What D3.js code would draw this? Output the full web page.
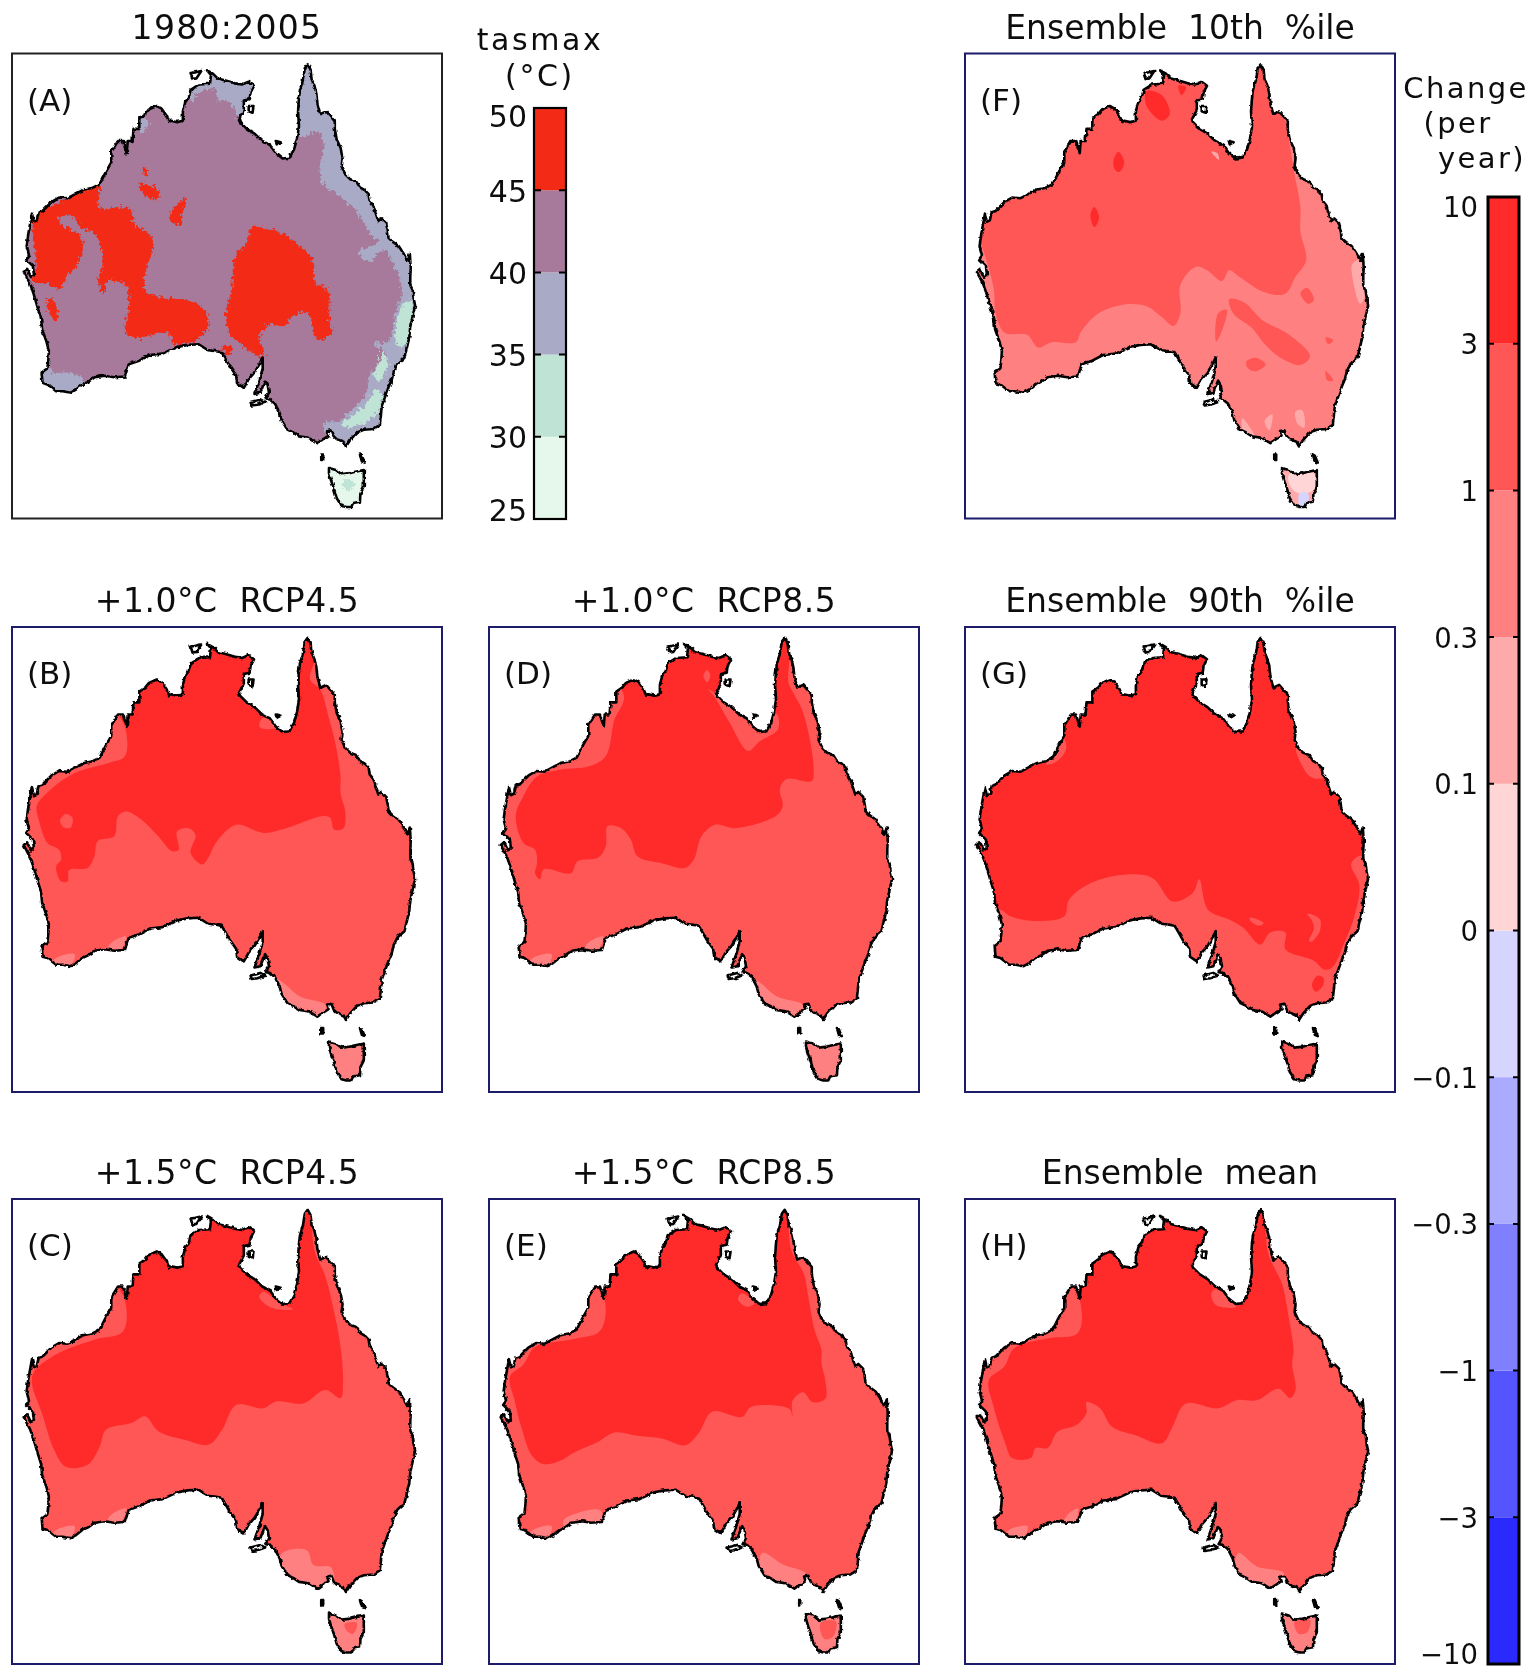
<!DOCTYPE html>
<html>
<head>
<meta charset="utf-8">
<script src="https://cdn.jsdelivr.net/npm/d3@7"></script>
<style>
  html, body { margin: 0; padding: 0; background: #fff; }
  svg { display: block; }
  text { font-family: "DejaVu Sans", sans-serif; fill: #111; white-space: pre; }
</style>
</head>
<body>
<div id="chart"></div>
<script>
// colour bars
const tasTicks = [25, 30, 35, 40, 45, 50];
const tasColors = ["#e6f8ec", "#bfe3d4", "#a9abc6", "#a7799a", "#f22c14"];
const changeLabels = ["10", "3", "1", "0.3", "0.1", "0", "\u22120.1", "\u22120.3", "\u22121", "\u22123", "\u221210"];
const changeSteps = [-3, -1, -0.3, -0.1, 0, 0.1, 0.3, 1, 3];
const changeColors = ["#2b2bff", "#5555ff", "#8080ff", "#aaaaff", "#d5d5ff", "#ffd5d5", "#ffaaaa", "#ff8080", "#ff5656", "#ff2c2c"];

// coastline, lon/lat
const mainland = [[142.5,-10.7],[142.8,-11.1],[142.9,-11.8],[143.2,-12.3],[143.4,-12.9],[143.5,-13.6],[143.8,-14.4],[144.4,-14.2],[144.9,-14.6],[145.3,-14.95],[145.3,-15.5],[145.5,-16.3],[145.9,-16.9],[146.1,-17.7],[146.0,-18.3],[146.4,-18.9],[146.9,-19.25],[147.5,-19.4],[147.9,-19.85],[148.4,-20.05],[148.8,-20.35],[148.9,-20.85],[149.3,-21.2],[149.5,-21.7],[149.8,-22.35],[150.1,-22.15],[150.6,-22.5],[150.8,-23.2],[150.85,-23.6],[151.3,-23.9],[151.9,-24.2],[152.4,-24.75],[152.8,-25.3],[153.05,-24.8],[153.15,-25.8],[153.1,-26.5],[153.1,-27.1],[153.35,-27.5],[153.45,-28.1],[153.6,-28.6],[153.35,-29.4],[153.1,-30.2],[153.0,-31.0],[152.7,-31.9],[152.5,-32.5],[151.8,-32.95],[151.4,-33.5],[151.2,-34.1],[150.85,-34.7],[150.5,-35.4],[150.15,-36.1],[150.05,-36.9],[149.95,-37.5],[149.3,-37.8],[148.3,-37.85],[147.6,-38.05],[146.9,-38.6],[146.45,-39.1],[146.2,-38.75],[145.5,-38.55],[145.2,-38.35],[144.95,-37.9],[144.5,-37.95],[144.65,-38.3],[143.9,-38.65],[143.5,-38.85],[142.6,-38.45],[141.6,-38.35],[141.0,-38.05],[140.4,-37.85],[139.8,-37.15],[139.6,-36.6],[139.1,-35.9],[138.6,-35.6],[138.15,-35.55],[138.5,-35.1],[138.35,-34.5],[138.1,-34.2],[137.6,-35.1],[137.0,-35.2],[137.5,-34.2],[137.85,-33.3],[137.85,-32.5],[137.5,-33.0],[137.0,-33.6],[136.4,-34.1],[135.9,-34.75],[135.6,-34.6],[135.2,-34.4],[135.1,-33.8],[134.4,-33.1],[134.1,-32.7],[133.6,-32.1],[132.9,-32.0],[132.2,-31.95],[131.2,-31.5],[130.1,-31.55],[129.0,-31.7],[127.5,-32.2],[126.2,-32.3],[125.0,-32.75],[124.0,-33.0],[123.6,-33.9],[122.5,-33.95],[121.5,-33.85],[120.5,-33.95],[119.8,-34.3],[119.2,-34.5],[118.5,-34.9],[118.0,-35.1],[117.2,-35.0],[116.5,-35.0],[115.6,-34.5],[115.1,-34.4],[115.0,-33.6],[115.6,-33.3],[115.7,-32.6],[115.75,-32],[115.5,-31.3],[115.05,-30.4],[114.95,-29.6],[114.6,-28.8],[114.15,-27.7],[113.8,-27],[113.15,-26.1],[113.5,-25.9],[113.9,-26.5],[114.2,-26.3],[114.1,-25.7],[113.4,-25.2],[113.7,-24.9],[113.45,-24.2],[113.6,-23.4],[113.8,-22.6],[114.0,-21.8],[114.2,-22.4],[114.5,-22.3],[114.7,-21.7],[115.1,-21.6],[116,-20.95],[116.8,-20.6],[117.7,-20.65],[118.6,-20.3],[119.4,-20.0],[120.2,-19.9],[121,-19.6],[121.6,-18.75],[122.2,-18.0],[122.2,-17.2],[122.9,-16.4],[123.4,-16.4],[123.8,-17.3],[123.9,-16.4],[124.4,-16.4],[124.5,-15.5],[125.1,-15.5],[125.1,-14.7],[125.7,-14.4],[126.1,-14.05],[126.9,-13.8],[127.4,-14.0],[127.9,-14.5],[128.2,-15.0],[128.4,-14.9],[129.0,-15.0],[129.6,-14.9],[129.6,-14.2],[129.85,-13.5],[130.2,-13.2],[130.4,-12.6],[130.85,-12.4],[131.3,-12.2],[132.4,-12.15],[132.5,-11.5],[132.1,-11.15],[132.7,-11.4],[133.2,-11.75],[134.0,-11.9],[134.9,-12.1],[135.7,-12.2],[136.4,-12.0],[136.95,-12.3],[136.6,-12.8],[136.5,-13.3],[135.9,-13.4],[135.9,-14.1],[135.4,-14.8],[135.5,-15.0],[136.2,-15.5],[137.0,-15.85],[137.8,-16.4],[138.6,-16.7],[139.2,-17.3],[139.9,-17.7],[140.6,-17.65],[141.1,-17.0],[141.4,-16.2],[141.6,-15.3],[141.5,-14.2],[141.6,-13.2],[141.7,-12.6],[142.0,-11.9],[142.2,-11.0]];
const tasmania = [[144.7,-40.7],[145.4,-40.85],[146,-41.15],[146.7,-41.1],[147.3,-41.0],[148.3,-40.85],[148.3,-41.5],[148.3,-42.1],[147.95,-42.6],[147.9,-43.2],[147.2,-43.3],[147,-43.6],[146.5,-43.6],[146,-43.5],[145.5,-42.95],[145.2,-42.2],[144.9,-41.6],[144.7,-41.1]];
const islands = [
  [[130.4,-11.35],[130.9,-11.3],[131.5,-11.2],[131.0,-11.75],[130.6,-11.8]],
  [[136.4,-13.8],[136.9,-13.8],[136.8,-14.3],[136.4,-14.2]],
  [[139.2,-16.4],[139.7,-16.5],[139.3,-16.65]],
  [[136.6,-35.8],[137.6,-35.6],[138.1,-35.8],[137.3,-36.0],[136.7,-36.05]],
  [[143.9,-39.7],[144.1,-39.7],[144.1,-40.1],[143.9,-40.1]],
  [[147.9,-39.7],[148.1,-39.8],[148.4,-40.3],[148.1,-40.2]]
];
const tasBox = [[143.5,-40.3],[149.6,-40.3],[149.6,-44.5],[143.5,-44.5]];

// panel A: tasmax
const aRim = [[141.75,-16.1],[143.45,-15.7],[144.1,-16.5],[143.9,-19.4],[145.8,-20.5],[147.5,-21.55],[148.8,-23.1],[149.85,-23.9],[147.75,-24.6],[148.8,-25.4],[150.3,-24.45],[151.35,-25.5],[152,-26.8],[152.2,-27.9],[151.55,-29.2],[150.9,-31.3],[149.4,-31.45],[150.7,-32.4],[149,-33.7],[148.55,-35.05],[147.1,-36.35],[145.8,-37.15],[144.1,-37.4],[144.5,-38.1],[147.1,-39.3],[154.8,-32.4],[155.2,-24.45],[148.8,-17.8],[145,-11.2],[142,-10.2],[140.9,-15]];
const aTopEnd = [[130.45,-13.6],[131.3,-12.8],[133,-12.55],[133.2,-13.5],[134.3,-13.35],[135.6,-14.9],[137.7,-13.9],[136.85,-11.2],[130.45,-10.7]];
const aSouthWest = [[115.7,-32.4],[116.0,-33.5],[118.5,-33.7],[120,-35],[114,-36],[114.5,-33]];
const aKimberley = [[125,-14.6],[126,-15],[125.4,-15.8]];
const aCoolA = [[151.8,-29.5],[152.9,-28.2],[153.5,-29.2],[152.9,-31.5],[151.8,-31.6]];
const aCoolB = [[150.2,-32],[150.8,-33],[149.8,-34.2],[149.3,-34],[149.8,-33]];
const aCoolC = [[149.5,-34.9],[150.3,-35.5],[149.2,-37],[147.1,-37.6],[146,-37.5],[147.4,-36.6],[148.6,-35.9]];
const aHotWest = [[114.05,-21.8],[115.95,-21.3],[118.1,-20.5],[121.05,-19.7],[120.85,-21.3],[124.05,-21.4],[124.7,-22.6],[126.4,-23.5],[126.4,-24.7],[125.75,-26.05],[125.75,-27.6],[127.45,-28.0],[130.9,-28.4],[132.35,-29.75],[131.3,-31.05],[128.75,-31.45],[128.1,-30.65],[124.9,-31.05],[123.65,-30.65],[124.05,-28.7],[123.65,-27.1],[121.7,-26.85],[121.5,-27.75],[120.85,-26.85],[121.3,-25.5],[120.65,-23.4],[119.15,-22.85],[117.85,-21.8],[116.8,-22.35],[119.15,-23.65],[118.95,-25.25],[117.85,-26.3],[116.8,-27.35],[115.5,-27],[114.05,-26.85],[114.45,-25.5],[114.25,-24.2],[114.05,-22.85]];
const aHotCentre = [[136.65,-22.85],[139.4,-23.15],[141.1,-23.9],[143.05,-25.25],[143.25,-26.85],[144.55,-27.5],[144.75,-29.75],[144.95,-30.55],[143.65,-31.2],[142.4,-29.2],[141.1,-29.35],[140.05,-30.15],[138.55,-30],[137.5,-31.05],[138.15,-32.4],[137.05,-32.25],[136,-31.7],[134.5,-30.8],[134.05,-29.2],[134.7,-27.35],[134.9,-25.25],[136.4,-23.65]];
const aHotSmall1 = [[125.5,-18.35],[126,-18.7],[125.9,-19.0],[125.5,-18.8]];
const aHotSmall2 = [[125.1,-19.55],[126.6,-19.8],[127.25,-20.2],[126.85,-20.8],[125.9,-20.5],[125.3,-20.2]];
const aHotSmall3 = [[128.8,-21.3],[130,-20.6],[129.6,-21.5],[129.3,-22.6],[128.6,-22.6],[128.3,-21.8]];
const aHotSmall4 = [[115.5,-28],[116.2,-28.3],[116.7,-29.7],[116.1,-29.6]];
const aHotSmall5 = [[133.6,-31.6],[134.4,-31.6],[134.8,-32],[134,-32.2]];
const aTasCore = [[146.2,-41.6],[147.2,-41.6],[147.1,-42.3],[146.3,-42.3]];

// panels B-H: change contours
const bDark = [[123.6,-17.3],[123.6,-19.5],[121.9,-20.0],[118.4,-20.75],[115.9,-22.0],[114.5,-23.2],[114.7,-24.2],[115.6,-25.95],[116.8,-26.45],[117.0,-27.2],[116.5,-27.7],[117.0,-28.8],[117.7,-28.8],[117.85,-27.95],[119.75,-27.8],[120.45,-26.95],[120.8,-25.8],[122.5,-25.45],[122.9,-23.95],[123.75,-23.6],[125.3,-24.2],[127.05,-25.45],[128.45,-26.55],[129.15,-26.45],[129.0,-25.1],[130.2,-24.85],[130.9,-25.35],[130.4,-26.7],[131.6,-27.55],[132.3,-26.95],[133.0,-25.95],[135.1,-24.6],[137.9,-25.2],[140.3,-24.85],[144.1,-23.95],[144.85,-24.1],[145.2,-24.95],[146.2,-24.85],[146.4,-23.7],[145.9,-22.25],[145.9,-21.0],[145.35,-18.5],[144.65,-16.55],[143.8,-14.55],[142.75,-13.8],[143.3,-12.1],[142.9,-10.1],[131.25,-9.6],[120.8,-13.8]];
const bHole = [[116.9,-24.3],[117.5,-23.8],[118.2,-24.1],[118.0,-24.8],[117.3,-24.8]];
const bGulf = [[137.5,-17.3],[137.9,-16.65],[139.6,-17.3],[138.2,-17.5]];
const dDark = [[125.9,-15.05],[124.9,-16.8],[124.0,-19.5],[122.3,-20.25],[119.3,-20.5],[116.9,-21.0],[115.5,-22.45],[114.7,-23.95],[115.5,-25.95],[116.7,-26.45],[116.9,-27.45],[116.7,-28.2],[117.2,-28.65],[117.6,-27.9],[120.4,-28.2],[121.1,-27.3],[123.2,-27.05],[124.0,-26.2],[124.2,-24.7],[125.6,-24.85],[126.6,-25.7],[127.3,-26.95],[129.8,-27.45],[132.2,-27.8],[133.1,-27.2],[133.9,-25.45],[135.3,-24.6],[137.4,-24.85],[141.6,-23.95],[142.3,-23.2],[142.0,-21.95],[142.7,-21.2],[145.3,-21.35],[145.5,-20.5],[145.1,-18.25],[144.3,-16.05],[143.4,-14.8],[142.9,-14.05],[143.0,-12.1],[142.9,-10.1],[131.2,-9.6],[123.5,-12]];
const dGulf = [[134.6,-14.55],[135.2,-15.05],[136.8,-17.0],[138.7,-19.1],[139.9,-18.4],[141.8,-17.5],[141.6,-16.3],[138.8,-16.55],[136.8,-15.55]];
const dBlob = [[134.1,-13.5],[134.5,-13.1],[134.8,-13.5],[134.5,-14]];
const cDark = [[123.6,-17.4],[123.4,-19.75],[120.45,-20.35],[116.6,-21.4],[114.2,-22.75],[114.0,-23.6],[115.05,-25.85],[116.3,-28.55],[117.5,-29.8],[119.75,-29.65],[121.0,-28.3],[121.65,-27.05],[124.3,-26.55],[125.7,-26.05],[127.05,-27.15],[129.85,-27.8],[132.3,-28.15],[133.65,-27.05],[135.1,-25.2],[137.9,-25.45],[139.25,-24.95],[142.05,-25.1],[144.3,-24.1],[145.9,-24.7],[146.15,-23.6],[145.9,-20.9],[145.2,-18.2],[144.3,-15.6],[143.25,-13.85],[142.9,-11.9],[142.7,-9.9],[131.2,-9.6],[120.8,-13.8]];
const cGulf = [[137.5,-17.2],[137.9,-16.8],[139.6,-17.6],[141,-18.1],[138.8,-18]];
const cSouthEast = [[139.8,-36.25],[142.4,-36],[143.1,-37.1],[144.85,-37.25],[145.2,-38.2],[143.4,-39.2],[139.6,-38.2]];
const cTas = [[146.3,-41.5],[147.6,-41.4],[147.2,-42.2],[146.7,-42.1]];
const eDark = [[123.9,-17.4],[123.4,-19.7],[120.7,-20.3],[116.7,-20.9],[115.5,-22.2],[114.1,-23.1],[114.6,-24.9],[115.3,-26.9],[116.4,-29.0],[117.6,-29.6],[119.3,-29.35],[120.7,-28.75],[123.1,-28.0],[124.9,-27.25],[127.3,-27.5],[129.8,-27.7],[132.2,-28.2],[133.6,-27.3],[135.0,-25.7],[138.1,-26.1],[139.0,-25.35],[143.0,-25.5],[143.3,-26.0],[143.3,-24.9],[144.4,-24.25],[145.4,-25.0],[146.7,-24.75],[146.7,-23.4],[146.3,-22.1],[146.3,-21.1],[145.6,-19.65],[144.9,-17],[144.5,-15.5],[143.2,-13.75],[142.9,-11.9],[142.7,-9.9],[131.2,-9.6],[120.8,-13.8]];
const eGulf = [[137.7,-17.4],[138.0,-16.9],[139.4,-17.6],[138.6,-17.9]];
const eSouthEast = [[140.2,-36.2],[142.3,-37.05],[144.8,-37.8],[143.7,-39.2],[139.9,-38]];
const eBight = [[119.7,-33.7],[123.4,-33],[123.6,-33.9],[119.7,-34.2]];
const eTas = [[146.2,-41.4],[147.8,-41.3],[147.5,-42.4],[146.6,-42.6]];
const hDark = [[123.8,-17.4],[123.6,-19.85],[120.5,-20.25],[117.0,-21.0],[116.0,-22.35],[114.4,-23.35],[114.9,-25.35],[116.1,-28.05],[116.8,-29.15],[118.75,-29.15],[119.25,-28.4],[120.5,-28.4],[121.5,-27.2],[123.45,-26.7],[124.5,-25.8],[124.5,-25.0],[125.9,-25.45],[127.1,-26.8],[129.55,-27.45],[132.3,-28.05],[133.4,-26.8],[134.75,-25.1],[138.1,-25.45],[140.0,-24.85],[142.1,-24.85],[144.35,-24.0],[145.55,-24.7],[146.1,-24.1],[145.75,-22.15],[145.9,-21.15],[145.4,-18.7],[144.7,-16.2],[143.3,-14.0],[142.95,-11.9],[142.6,-9.9],[131.2,-9.6],[120.8,-13.8]];
const hGulf = [[137.4,-16.9],[137.9,-16.6],[140,-17.9],[137.9,-17.8]];
const hSouthEast = [[140.2,-36.2],[142.1,-37.2],[144.9,-37.7],[143.8,-39.0],[140,-37.7]];
const hBight = [[122.6,-33.3],[123.6,-32.9],[123.3,-33.9],[122.2,-33.9]];
const hTas = [[146,-41.3],[147.6,-41.2],[147.3,-42.1],[146.4,-42.2]];
const seLight = [[139.4,-36.1],[140.0,-36.35],[141.7,-37.35],[144.4,-38.0],[143.8,-39],[140,-38.4]];
const bightLight = [[122.5,-33.2],[123.75,-32.9],[123.2,-33.85],[121.85,-33.75]];
const swLight = [[116.3,-34.6],[118.4,-34.2],[117.85,-35.3],[116.3,-35.3]];

const gSouth = [[115.6,-30.9],[116.65,-31.4],[119.45,-31.75],[122.2,-31.4],[122.7,-30.15],[125.0,-28.9],[128.5,-28.3],[131.3,-28.55],[133.4,-30.3],[135.5,-29.65],[136.15,-28.65],[137.05,-30.9],[139.3,-31.65],[140.7,-32.25],[142.45,-33.5],[143.5,-32.6],[145.05,-32.6],[145.05,-33.85],[148.0,-34.7],[149.05,-35.35],[149.9,-35.2],[151.15,-33.35],[152.2,-31.35],[152.7,-29.1],[151.85,-27.5],[152.9,-26.9],[154.6,-28.7],[156,-38.5],[148.7,-44.6],[141.7,-44.6],[113.8,-38.6],[113.5,-31.1]];
const gSnowy = [[147.8,-36.5],[148.4,-35.8],[149.0,-36.0],[148.9,-36.6],[148.2,-37.0]];
const gStrip = [[147.3,-31.2],[148.6,-31.6],[148.6,-32.5],[147.7,-33.3],[147.5,-33.2],[148.0,-32.3],[147.8,-31.7]];
const gInland = [[141.4,-31.5],[142.8,-31.9],[142.4,-32.1],[141.4,-31.7]];
const gNorthEast = [[146.2,-18.9],[148.5,-19.5],[149.9,-20.9],[147.8,-21.1],[146.7,-20.1]];
const gNorthWest = [[122,-18.1],[122.4,-18.9],[121.4,-19.9],[120.3,-20.1],[120.4,-19.5]];

const fMid = [[113.5,-23.9],[114.9,-27.35],[115.1,-29.2],[116.05,-30.65],[118.35,-30.8],[119.5,-31.75],[120.9,-31.35],[123.4,-31.35],[123.95,-30.55],[125.75,-29.2],[128.45,-28.55],[130.75,-28.7],[132.3,-29.5],[133.5,-30.15],[134.2,-29.2],[134.2,-27.1],[135.8,-25.75],[136.95,-26.0],[138.5,-26.8],[139.25,-26.0],[140.4,-26.55],[142.75,-27.6],[145.05,-27.75],[146.05,-26.55],[147.2,-25.25],[146.6,-23.1],[146.6,-21.25],[146.05,-19.1],[145.45,-16.5],[145.05,-14.9],[144.3,-14.1],[143.35,-12.2],[142.7,-9.85],[130.35,-9.3],[120.7,-13.8],[113.3,-20.7],[112.6,-22.8]];
const fInlandA = [[139.25,-28.15],[140.8,-28.4],[142.75,-29.75],[145.45,-30.8],[147.6,-32.4],[146.6,-33.05],[144.3,-32.4],[142.75,-31.35],[141.6,-30.3],[139.65,-29.2]];
const fInlandB = [[138.1,-29.2],[139,-28.95],[138.5,-30.5],[137.9,-31.3]];
const fInlandC = [[141,-32.8],[142,-32.5],[143,-33],[142,-33.5],[141.2,-33.3]];
const fInlandD = [[146.6,-27.7],[147.3,-27.3],[148.0,-28.2],[147.4,-28.5]];
const fInlandE = [[149.2,-33.5],[150,-34.2],[149.4,-34.2]];
const fInlandF = [[149.2,-31],[150,-31.2],[149.5,-31.5]];
const fHotA = [[130.7,-12.7],[132.3,-13.0],[133.1,-14.4],[132.3,-14.9],[130.7,-13.8]];
const fHotB = [[134,-12.3],[134.8,-12.4],[134.3,-13.0]];
const fHotC = [[127.3,-17.8],[127.8,-17.2],[128.4,-18],[127.9,-18.7],[127.4,-18.5]];
const fHotD = [[124.9,-21.9],[125.3,-21.3],[125.8,-22.1],[125.3,-22.8]];
const fCoastA = [[152,-25.5],[153.2,-25.2],[153.5,-27.3],[152.8,-28.5],[152,-26.6]];
const fCoastB = [[153,-26.2],[153.6,-25.8],[153.7,-27.6],[153.2,-27.2]];
const fAlpsA = [[146.1,-36.5],[146.8,-36.4],[147,-37.7],[146.3,-37.4]];
const fAlpsB = [[142.9,-37.2],[143.7,-36.7],[143.4,-37.9]];
const fAlpsC = [[140.6,-37],[141.5,-37.8],[142,-38.5],[140.8,-38.3]];
const fGulf = [[137.4,-17.2],[138,-17.3],[138.2,-17.8]];
const fTasMid = [[145.4,-41.2],[148,-41.1],[148,-42.3],[146.6,-42.6],[145.7,-42.2]];
const fTasBlue = [[146.5,-42.6],[147.4,-42.6],[147.2,-43.7],[146.6,-43.7]];

const lonDomain = [111.94, 156.38];
const latDomain = [-9.9, -44.45];

// band values: 5 = 3..10, 2 = 1..3, 0.6 = 0.3..1, 0.2 = 0.1..0.3, 0.05 = 0..0.1, -0.05 = -0.1..0
const panels = [
  {label: "(A)", title: "1980:2005", col: 0, row: 0, tas: true, spacing: 1.3, base: 42, layers: [
    [37, aRim], [37, aTopEnd], [37, aSouthWest], [37, aKimberley], [32, aCoolA], [32, aCoolB], [32, aCoolC],
    [47, aHotWest], [47, aHotCentre], [47, aHotSmall1], [47, aHotSmall2], [47, aHotSmall3], [47, aHotSmall4], [47, aHotSmall5], [27, tasBox], [32, aTasCore]]},
  {label: "(B)", title: "+1.0\u00b0C  RCP4.5", col: 0, row: 1, spacing: 0.5, base: 2, layers: [
    [5, bDark], [2, bHole], [2, bGulf], [0.6, seLight], [0.6, bightLight], [0.6, swLight], [0.6, tasBox]]},
  {label: "(C)", title: "+1.5\u00b0C  RCP4.5", col: 0, row: 2, spacing: 0.5, base: 2, layers: [
    [5, cDark], [2, cGulf], [0.6, cSouthEast], [0.6, bightLight], [0.6, swLight], [0.6, tasBox], [2, cTas]]},
  {label: "(D)", title: "+1.0\u00b0C  RCP8.5", col: 1, row: 1, spacing: 0.5, base: 2, layers: [
    [5, dDark], [2, dGulf], [2, dBlob], [0.6, seLight], [0.6, bightLight], [0.6, swLight], [0.6, tasBox]]},
  {label: "(E)", title: "+1.5\u00b0C  RCP8.5", col: 1, row: 2, spacing: 0.5, base: 2, layers: [
    [5, eDark], [2, eGulf], [0.6, eSouthEast], [0.6, eBight], [0.6, swLight], [0.6, tasBox], [2, eTas]]},
  {label: "(F)", title: "Ensemble  10th  %ile", col: 2, row: 0, spacing: 0, base: 0.6, layers: [
    [2, fMid], [2, fInlandA], [2, fInlandB], [2, fInlandC], [2, fInlandD], [2, fInlandE], [2, fInlandF],
    [5, fHotA], [5, fHotB], [5, fHotC], [5, fHotD],
    [0.2, fCoastA], [-0.05, fCoastB], [0.2, fAlpsA], [0.2, fAlpsB], [0.2, fAlpsC], [0.2, fGulf],
    [0.2, tasBox], [0.05, fTasMid], [-0.05, fTasBlue]]},
  {label: "(G)", title: "Ensemble  90th  %ile", col: 2, row: 1, spacing: 0, base: 5, layers: [
    [2, gSouth], [5, gSnowy], [2, gStrip], [2, gInland], [2, gNorthEast], [2, gNorthWest]]},
  {label: "(H)", title: "Ensemble  mean", col: 2, row: 2, spacing: 0, base: 2, layers: [
    [5, hDark], [2, hGulf], [0.6, hSouthEast], [0.6, hBight], [0.6, swLight], [0.6, tasBox], [2, hTas]]}
];

const W = 1538, H = 1678;
const colX = [12, 489, 965], rowY = [53.5, 627, 1199];
const panelW = 430, panelH = 465;

const tasColor = d3.scaleThreshold().domain(tasTicks.slice(1, -1)).range(tasColors);
const changeColor = d3.scaleThreshold().domain(changeSteps).range(changeColors);

const svg = d3.select("#chart").append("svg").attr("width", W).attr("height", H);
const defs = svg.append("defs");

// soft edges, the source is an upscaled raster
defs.append("filter").attr("id", "soft").attr("x", 0).attr("y", 0)
    .attr("width", W).attr("height", H).attr("filterUnits", "userSpaceOnUse")
  .append("feGaussianBlur").attr("stdDeviation", 0.55);
function roughFilter(id, freq, scale) {
  const f = defs.append("filter").attr("id", id).attr("x", "-5%").attr("y", "-5%").attr("width", "110%").attr("height", "110%")
    .attr("color-interpolation-filters", "sRGB");
  f.append("feTurbulence").attr("type", "fractalNoise").attr("baseFrequency", freq).attr("numOctaves", 2).attr("seed", 3).attr("result", "n");
  f.append("feDisplacementMap").attr("in", "SourceGraphic").attr("in2", "n").attr("scale", scale)
    .attr("xChannelSelector", "R").attr("yChannelSelector", "G");
}
roughFilter("roughCoast", 0.22, 3.5);
roughFilter("roughPatch", 0.3, 9);

const root = svg.append("g").attr("filter", "url(#soft)");

panels.forEach((p, i) => {
  const x0 = colX[p.col], y0 = rowY[p.row];
  const lon = d3.scaleLinear().domain(lonDomain).range([x0, x0 + panelW]);
  const lat = d3.scaleLinear().domain(latDomain).range([y0, y0 + panelH]);
  const coast = d3.line().x(d => lon(d[0])).y(d => lat(d[1])).curve(d3.curveLinearClosed);
  const contour = d3.line().x(d => lon(d[0])).y(d => lat(d[1])).curve(d3.curveCatmullRomClosed.alpha(0.5));
  const color = p.tas ? tasColor : changeColor;
  const land = [mainland, tasmania];

  const g = root.append("g");
  defs.append("clipPath").attr("id", "land" + i)
    .selectAll("path").data(land).join("path").attr("d", coast);

  g.append("rect").attr("x", x0).attr("y", y0).attr("width", panelW).attr("height", panelH)
    .attr("fill", "#fff").attr("stroke", p.tas ? "#222" : "#1c1c6b").attr("stroke-width", 2);

  const clip = g.append("g").attr("clip-path", "url(#land" + i + ")");
  clip.append("rect").attr("x", x0).attr("y", y0).attr("width", panelW).attr("height", panelH)
    .attr("fill", color(p.base));
  clip.append("g").attr("filter", p.tas ? "url(#roughPatch)" : null)
    .selectAll("path").data(p.layers).join("path")
    .attr("d", d => contour(d[1]))
    .attr("fill", d => color(d[0]));

  g.append("g").attr("filter", "url(#roughCoast)")
    .selectAll("path").data(land.concat(islands)).join("path")
    .attr("d", coast)
    .attr("fill", "none").attr("stroke", "#000").attr("stroke-width", 2.6).attr("stroke-linejoin", "round");

  g.append("text").attr("x", x0 + 15).attr("y", y0 + 57).attr("font-size", 31).text(p.label);
  g.append("text").attr("x", x0 + panelW / 2).attr("y", y0 - 15).attr("font-size", 33)
    .attr("letter-spacing", p.spacing).attr("text-anchor", "middle").text(p.title);
});

// tasmax colour bar
const tasBar = {x: 534, w: 32, top: 108, bottom: 519};
const tasY = d3.scaleLinear().domain([25, 50]).range([tasBar.bottom, tasBar.top]);
const barTas = root.append("g");
barTas.selectAll("rect").data(tasColors).join("rect")
  .attr("x", tasBar.x).attr("width", tasBar.w)
  .attr("y", (d, i) => tasY(tasTicks[i + 1]))
  .attr("height", (d, i) => tasY(tasTicks[i]) - tasY(tasTicks[i + 1]))
  .attr("fill", d => d);
barTas.append("rect").attr("x", tasBar.x).attr("y", tasBar.top).attr("width", tasBar.w)
  .attr("height", tasBar.bottom - tasBar.top).attr("fill", "none").attr("stroke", "#000").attr("stroke-width", 2.2);
barTas.selectAll("path.tick").data(tasTicks.slice(1, -1)).join("path").attr("class", "tick")
  .attr("d", d => `M${tasBar.x},${tasY(d)}h7M${tasBar.x + tasBar.w - 7},${tasY(d)}h7`)
  .attr("stroke", "#000").attr("stroke-width", 2);
const axisTas = d3.axisLeft(tasY).tickValues(tasTicks).tickSize(0).tickPadding(7);
const tasAxisG = barTas.append("g").attr("transform", `translate(${tasBar.x},0)`).call(axisTas);
tasAxisG.select(".domain").remove();
tasAxisG.selectAll("text").attr("font-size", 30).attr("fill", "#111")
  .attr("font-family", '"DejaVu Sans", sans-serif')
  .attr("dy", d => d === 50 ? "0.62em" : d === 25 ? "0.05em" : "0.36em");

root.append("g").attr("font-size", 30).attr("letter-spacing", 2.6).attr("text-anchor", "middle")
  .selectAll("text").data([["tasmax", 50], ["(\u00b0C)", 86]]).join("text")
  .attr("x", 540).attr("y", d => d[1]).text(d => d[0]);

// change colour bar
const chBar = {x: 1488, w: 31, top: 197, bottom: 1664};
const chY = d3.scalePoint().domain(changeLabels).range([chBar.top, chBar.bottom]);
const barCh = root.append("g");
barCh.selectAll("rect").data(changeColors).join("rect")
  .attr("x", chBar.x).attr("width", chBar.w)
  .attr("y", (d, i) => chY(changeLabels[changeLabels.length - 2 - i]))
  .attr("height", chY.step())
  .attr("fill", d => d);
barCh.append("rect").attr("x", chBar.x).attr("y", chBar.top).attr("width", chBar.w)
  .attr("height", chBar.bottom - chBar.top).attr("fill", "none").attr("stroke", "#000").attr("stroke-width", 3);
barCh.selectAll("path.tick").data(changeLabels.slice(1, -1)).join("path").attr("class", "tick")
  .attr("d", d => `M${chBar.x},${chY(d)}h6M${chBar.x + chBar.w - 6},${chY(d)}h6`)
  .attr("stroke", "#000").attr("stroke-width", 2);
const axisCh = d3.axisLeft(chY).tickSize(0).tickPadding(10);
const chAxisG = barCh.append("g").attr("transform", `translate(${chBar.x},0)`).call(axisCh);
chAxisG.select(".domain").remove();
chAxisG.selectAll("text").attr("font-size", 27.5).attr("fill", "#111")
  .attr("font-family", '"DejaVu Sans", sans-serif')
  .attr("dy", d => d === "10" ? "0.7em" : d === "\u221210" ? "-0.02em" : "0.36em");

root.append("g").attr("font-size", 29).attr("letter-spacing", 2.4).attr("text-anchor", "middle")
  .selectAll("text").data([["Change", 1466, 98], ["(per", 1458, 133], ["year)", 1482, 168]]).join("text")
  .attr("x", d => d[1]).attr("y", d => d[2]).text(d => d[0]);
</script>
</body>
</html>
